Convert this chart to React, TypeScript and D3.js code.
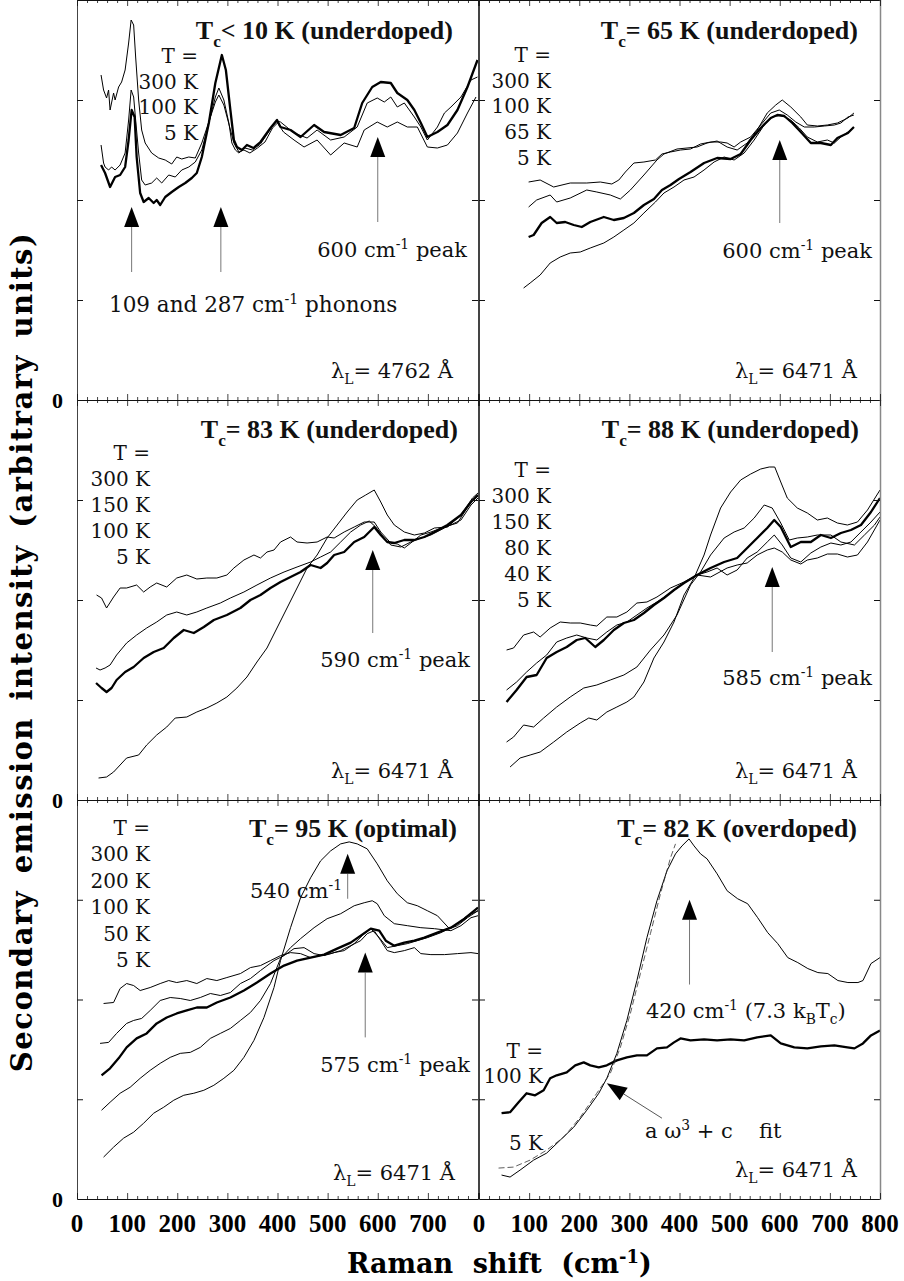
import React from 'react';
import * as d3 from 'd3';

const W = 904, H = 1281;

// ---------- Panel 1: Tc < 10 K (underdoped) ----------
const p1_300K: [number, number][] = [[48,325],[53,310],[59,302],[63,310],[66,290],[73,307],[76,300],[83,313],[89,318],[96,330],[103,357],[108,380],[113,375],[117,343],[123,300],[129,270],[136,257],[149,247],[163,242],[176,240],[189,236],[199,243],[209,241],[223,243],[236,242],[249,257],[263,278],[276,298],[283,305],[293,295],[303,276],[313,257],[323,248],[333,250],[345,247],[360,252],[375,258],[390,272],[400,277],[412,268],[433,260],[453,253],[479,260],[506,245],[533,257],[559,253],[573,270],[599,278],[619,273],[639,278],[659,273],[679,273],[699,253],[719,252],[739,255],[759,267],[779,287],[796,303]];
const p1_100K: [number, number][] = [[48,255],[53,237],[56,233],[63,230],[69,233],[76,230],[86,235],[96,247],[103,280],[108,310],[113,303],[117,280],[123,247],[129,220],[136,215],[149,217],[159,222],[169,217],[183,225],[196,223],[209,230],[223,233],[236,238],[249,250],[263,277],[276,303],[283,312],[293,300],[303,277],[309,257],[316,250],[323,247],[335,252],[350,250],[366,256],[386,271],[399,279],[406,278],[433,267],[459,262],[479,270],[506,260],[533,263],[559,273],[579,297],[599,302],[613,298],[626,303],[639,293],[653,297],[673,283],[686,273],[699,260],[719,273],[733,287],[746,293],[766,303],[786,320],[799,323]];
const p1_5K: [number, number][] = [[48,235],[56,227],[66,213],[76,223],[86,225],[96,233],[103,260],[109,290],[115,283],[119,243],[126,207],[133,198],[143,202],[153,197],[159,200],[166,195],[176,203],[189,208],[203,213],[216,217],[229,222],[239,227],[249,243],[263,277],[276,317],[289,345],[297,330],[306,290],[313,260],[319,253],[329,250],[339,255],[352,252],[366,258],[386,272],[399,280],[406,273],[426,270],[446,263],[473,275],[493,268],[526,265],[553,272],[569,297],[589,313],[606,318],[626,317],[639,307],[659,300],[673,290],[686,277],[699,263],[719,268],[739,275],[759,290],[779,313],[799,340]];

// ---------- Panel 2: Tc = 65 K (underdoped) ----------
const p2_300K: [number, number][] = [[99,218],[122,220],[149,213],[182,217],[215,217],[242,218],[265,216],[279,220],[292,228],[309,237],[329,238],[352,240],[365,246],[382,248],[402,250],[422,251],[442,256],[462,258],[482,258],[495,257],[509,253],[522,258],[542,263],[562,275],[582,287],[599,290],[615,285],[632,278],[649,273],[669,273],[689,274],[709,275],[722,277],[736,283],[748,285]];
const p2_100K: [number, number][] = [[99,193],[115,200],[142,205],[155,198],[182,202],[215,210],[235,208],[262,205],[282,201],[302,210],[329,225],[355,240],[369,246],[395,251],[415,252],[435,253],[455,257],[475,259],[495,253],[515,250],[535,257],[555,270],[575,287],[592,295],[605,300],[622,293],[642,283],[655,275],[675,274],[695,275],[715,277],[736,282],[748,287]];
const p2_65K: [number, number][] = [[99,163],[109,165],[125,177],[142,183],[155,177],[172,178],[189,175],[205,173],[222,178],[249,183],[269,180],[289,182],[309,187],[329,195],[349,201],[365,210],[382,215],[399,221],[422,228],[449,237],[475,242],[502,241],[522,246],[542,260],[562,272],[582,282],[595,285],[609,284],[625,277],[642,268],[662,257],[682,257],[702,255],[715,262],[736,267],[748,273]];
const p2_5K: [number, number][] = [[89,112],[102,117],[122,125],[142,137],[162,143],[182,147],[202,148],[222,152],[249,157],[269,163],[289,170],[309,177],[329,187],[352,198],[369,207],[389,213],[409,220],[429,223],[449,230],[469,238],[489,243],[509,240],[529,247],[549,260],[569,275],[585,283],[602,285],[622,280],[639,272],[655,263],[675,258],[695,260],[709,257],[722,263],[736,268],[748,273]];

// ---------- Panel 3: Tc = 83 K (underdoped) ----------
const p3_300K: [number, number][] = [[39,205],[49,202],[59,192],[73,203],[86,212],[99,212],[119,215],[133,208],[146,213],[159,217],[179,213],[199,222],[219,225],[239,221],[259,222],[279,222],[299,225],[313,232],[333,240],[353,245],[366,242],[379,248],[393,250],[406,258],[426,263],[439,258],[459,257],[479,258],[499,263],[513,262],[533,268],[553,273],[573,278],[593,278],[606,268],[626,257],[639,256],[653,252],[666,257],[686,265],[706,268],[733,273],[759,277],[786,298],[800,304]];
const p3_150K: [number, number][] = [[38,132],[46,130],[56,132],[66,135],[79,145],[99,157],[119,165],[139,172],[159,178],[179,185],[199,188],[219,185],[239,188],[259,192],[286,197],[306,202],[333,208],[359,215],[386,222],[413,228],[439,233],[466,238],[486,243],[506,248],[526,258],[546,268],[566,275],[583,279],[596,273],[613,262],[626,255],[646,253],[666,258],[686,262],[706,265],[733,272],[766,280],[786,295],[800,302]];
const p3_100K: [number, number][] = [[38,117],[49,112],[59,108],[69,112],[79,120],[96,128],[113,133],[133,142],[153,148],[173,152],[193,162],[213,170],[233,167],[253,173],[273,180],[299,185],[326,192],[346,200],[366,205],[386,212],[406,218],[426,223],[446,228],[466,235],[486,232],[499,237],[513,245],[533,248],[553,258],[573,263],[593,273],[606,265],[619,258],[633,257],[653,260],[673,260],[693,263],[713,268],[739,275],[766,285],[786,298],[800,305]];
const p3_5K: [number, number][] = [[43,22],[59,23],[73,28],[86,35],[99,42],[123,45],[139,55],[159,65],[179,73],[196,82],[219,83],[239,88],[259,92],[279,97],[299,103],[319,112],[339,123],[359,138],[379,152],[399,172],[419,192],[439,212],[459,232],[479,245],[499,262],[519,275],[539,288],[559,300],[576,305],[593,310],[606,298],[619,285],[633,275],[653,268],[673,265],[693,267],[713,272],[739,273],[766,285],[789,302],[800,307]];

// ---------- Panel 4: Tc = 88 K (underdoped) ----------
const p4_300K: [number, number][] = [[55,150],[69,152],[89,165],[109,168],[122,163],[142,172],[162,178],[182,177],[202,177],[222,175],[235,174],[255,183],[275,183],[295,188],[315,197],[335,198],[355,203],[382,212],[409,218],[435,225],[462,223],[495,232],[515,235],[535,237],[555,245],[575,250],[589,252],[605,248],[622,240],[642,236],[655,240],[675,242],[695,246],[715,246],[735,243],[755,245],[775,258],[800,280]];
const p4_150K: [number, number][] = [[55,110],[75,118],[95,128],[115,137],[135,145],[155,158],[175,162],[195,165],[215,162],[235,160],[255,168],[275,175],[295,178],[315,185],[335,192],[355,198],[382,207],[409,217],[435,225],[455,228],[475,232],[495,225],[515,230],[535,242],[555,248],[575,258],[589,265],[605,255],[622,242],[642,238],[662,247],[682,253],[702,257],[722,255],[742,258],[762,268],[782,278],[800,288]];
const p4_80K: [number, number][] = [[55,98],[75,110],[95,123],[115,125],[135,142],[155,148],[175,153],[195,160],[212,162],[232,153],[249,160],[269,170],[289,177],[309,180],[329,187],[349,195],[369,202],[389,210],[409,217],[435,225],[462,232],[489,238],[515,242],[535,252],[555,262],[575,272],[589,280],[602,273],[622,253],[642,258],[662,258],[682,265],[702,262],[722,267],[742,270],[762,275],[782,288],[800,302]];
const p4_40K: [number, number][] = [[55,58],[69,63],[89,75],[109,73],[129,82],[155,93],[182,103],[209,112],[235,115],[262,120],[289,125],[315,133],[342,150],[369,165],[395,185],[422,215],[442,228],[462,245],[489,262],[509,268],[529,272],[549,282],[569,295],[585,292],[602,277],[619,260],[635,262],[655,263],[675,265],[702,265],[722,258],[749,255],[769,265],[789,275],[800,283]];
const p4_5K: [number, number][] = [[62,33],[82,42],[102,45],[122,48],[149,58],[175,68],[202,77],[219,82],[235,80],[255,88],[275,93],[295,98],[309,103],[329,118],[349,142],[369,158],[389,178],[409,205],[429,222],[449,245],[462,265],[482,292],[502,308],[522,320],[542,326],[562,331],[579,333],[590,333],[602,318],[615,302],[635,292],[655,287],[675,280],[695,282],[715,277],[735,275],[755,278],[775,290],[800,310]];

// ---------- Panel 5: Tc = 95 K (optimal) ----------
const p5_300K: [number, number][] = [[53,196],[73,197],[86,211],[99,216],[113,214],[126,209],[146,212],[166,216],[183,219],[199,217],[219,219],[239,216],[259,221],[279,219],[299,222],[326,226],[346,232],[366,234],[386,239],[406,244],[426,247],[446,246],[466,242],[486,244],[506,246],[526,249],[546,254],[566,259],[579,266],[593,269],[606,259],[619,249],[633,247],[653,249],[673,252],[686,246],[706,245],[733,245],[759,246],[786,247],[800,246]];
const p5_200K: [number, number][] = [[46,156],[63,157],[79,166],[99,176],[113,179],[129,181],[146,189],[166,199],[186,202],[206,201],[226,199],[246,202],[266,206],[286,204],[306,207],[326,216],[346,221],[366,229],[393,239],[413,244],[433,251],[453,252],[473,246],[493,244],[513,247],[533,249],[553,256],[569,264],[586,271],[603,262],[619,252],[639,254],[659,256],[679,259],[699,262],[726,267],[753,274],[779,284],[800,289]];
const p5_100K: [number, number][] = [[49,124],[66,131],[83,141],[99,152],[119,161],[139,166],[159,176],[179,182],[199,186],[219,189],[239,192],[259,192],[279,197],[306,202],[333,209],[359,217],[386,226],[413,234],[439,239],[466,242],[493,245],[519,251],[546,257],[566,264],[586,271],[603,269],[616,259],[633,254],[653,257],[673,259],[693,262],[719,267],[746,272],[773,281],[800,292]];
const p5_50K: [number, number][] = [[49,89],[66,97],[86,106],[106,112],[126,121],[146,129],[166,136],[186,142],[206,146],[226,147],[246,152],[266,161],[286,166],[306,171],[326,179],[346,187],[366,199],[386,216],[406,241],[426,252],[446,261],[473,272],[499,281],[526,286],[553,294],[573,297],[589,299],[599,296],[613,284],[633,276],[659,274],[686,272],[713,271],[746,269],[766,274],[786,282],[800,284]];
const p5_5K: [number, number][] = [[53,42],[73,52],[93,61],[113,67],[133,76],[153,86],[173,92],[193,99],[213,104],[233,106],[253,109],[273,114],[293,121],[313,129],[333,142],[353,159],[373,182],[393,212],[406,239],[426,272],[446,302],[466,322],[486,339],[506,349],[526,356],[543,358],[559,356],[579,351],[599,336],[619,319],[639,306],[659,297],[679,294],[699,289],[719,284],[743,271],[759,274],[779,282],[800,289]];

// ---------- Panel 6: Tc = 82 K (overdoped) ----------
const p6_100K: [number, number][] = [[45,86],[62,87],[79,97],[95,106],[112,104],[129,109],[142,121],[155,124],[175,127],[192,134],[209,137],[222,134],[239,132],[255,134],[275,139],[295,142],[315,144],[335,144],[355,151],[375,152],[389,157],[402,161],[422,159],[449,160],[475,159],[502,160],[529,159],[555,162],[582,164],[602,156],[629,152],[655,151],[682,153],[709,154],[735,152],[749,151],[766,156],[782,164],[800,169]];
const p6_5K: [number, number][] = [[45,24],[62,22],[82,29],[109,39],[135,46],[162,59],[189,72],[215,89],[239,106],[255,121],[275,146],[295,179],[315,219],[335,262],[355,299],[375,329],[392,346],[405,354],[419,361],[429,354],[442,346],[455,341],[475,326],[495,309],[516,301],[536,296],[556,282],[576,267],[596,256],[616,242],[636,237],[656,231],[676,227],[696,226],[716,219],[736,217],[756,217],[766,219],[782,236],[800,242]];
const p6_fit: [number, number][] = [[39,31],[69,32],[102,39],[135,49],[169,62],[202,82],[235,106],[262,126],[282,152],[302,186],[322,226],[342,266],[362,306],[382,342],[392,356]];

const xTicksLeft = [0, 100, 200, 300, 400, 500, 600, 700];
const xTicksRight = [0, 100, 200, 300, 400, 500, 600, 700, 800];
const yTicks = [100, 200, 300];

const colRange: [number, number][] = [[77, 478], [479, 880]];
const rowRange: [number, number][] = [[0, 400], [400, 800], [800, 1199]];

const SERIF = "'DejaVu Serif', serif";
const TIMES = "'Liberation Serif', 'Times New Roman', serif";

type Seg = { t: string; sub?: boolean; sup?: boolean };
const S = (t: string): Seg => ({ t });
const sub = (t: string): Seg => ({ t, sub: true });
const sup = (t: string): Seg => ({ t, sup: true });

type TextItem = { x: number; y: number; anchor?: string; size: number; bold?: boolean; family?: string; segs: Seg[] };
type Arrow = { x: number; tip: number; tail: number };
type Series = { d: [number, number][]; thick?: boolean; dashed?: boolean };

function Rich({ item }: { item: TextItem }) {
  const { x, y, anchor = 'start', size, bold, family = SERIF, segs } = item;
  let shift = 0;
  const kids = segs.map((s, i) => {
    const target = s.sub ? size * 0.3 : s.sup ? -size * 0.38 : 0;
    const dy = target - shift;
    shift = target;
    return (
      <tspan key={i} dy={dy} fontSize={s.sub || s.sup ? size * 0.66 : size}>{s.t}</tspan>
    );
  });
  return (
    <text x={x} y={y} textAnchor={anchor as any} fontSize={size} fontWeight={bold ? 'bold' : 'normal'}
      fontFamily={family} fill="#111" style={{ whiteSpace: 'pre' }}>{kids}</text>
  );
}

const titleT = (rest: string, x: number, y: number): TextItem => ({ x, y, anchor: 'end', size: 26, bold: true, family: TIMES, segs: [S('T'), sub('c'), S(rest)] });
const lam = (v: string, x: number, y: number): TextItem => ({ x, y, anchor: 'end', size: 21, segs: [S('λ'), sub('L'), S('= ' + v + ' Å')] });
const peak = (v: string, x: number, y: number, tail = ' peak'): TextItem => ({ x, y, anchor: 'end', size: 21, segs: [S(v + ' cm'), sup('-1'), S(tail)] });
const legend = (labels: string[], x: number, y0: number, dy: number): TextItem[] => labels.map((l, i) => ({ x, y: y0 + dy * i, anchor: 'end', size: 20, segs: [S(l)] }));

type PanelDef = { col: number; row: number; series: Series[]; arrows: Arrow[]; texts: TextItem[]; diag?: { x1: number; y1: number; x2: number; y2: number } };

const panels: PanelDef[] = [
  {
    col: 0, row: 0,
    series: [{ d: p1_300K }, { d: p1_100K }, { d: p1_5K, thick: true }],
    arrows: [{ x: 109, tip: 193, tail: 128 }, { x: 287, tip: 193, tail: 128 }, { x: 600, tip: 263, tail: 178 }],
    texts: [
      titleT('< 10 K (underdoped)', 453, 39),
      ...legend(['T =', '300 K', '100 K', '5 K'], 198, 63, 25.7),
      peak('600', 467, 257),
      { x: 109, y: 312, size: 21.5, segs: [S('109 and 287 cm'), sup('-1'), S(' phonons')] },
      lam('4762', 453, 378),
    ],
  },
  {
    col: 1, row: 0,
    series: [{ d: p2_300K }, { d: p2_100K }, { d: p2_65K, thick: true }, { d: p2_5K }],
    arrows: [{ x: 600, tip: 260, tail: 177 }],
    texts: [
      titleT('= 65 K (underdoped)', 858, 39),
      ...legend(['T =', '300 K', '100 K', '65 K', '5 K'], 551, 62, 25.7),
      peak('600', 872, 258),
      lam('6471', 857, 378),
    ],
  },
  {
    col: 0, row: 1,
    series: [{ d: p3_300K }, { d: p3_150K }, { d: p3_100K, thick: true }, { d: p3_5K }],
    arrows: [{ x: 590, tip: 250, tail: 167 }],
    texts: [
      titleT('= 83 K (underdoped)', 458, 438),
      ...legend(['T =', '300 K', '150 K', '100 K', '5 K'], 150, 460, 26),
      peak('590', 470, 667),
      lam('6471', 453, 778),
    ],
  },
  {
    col: 1, row: 1,
    series: [{ d: p4_300K }, { d: p4_150K }, { d: p4_80K, thick: true }, { d: p4_40K }, { d: p4_5K }],
    arrows: [{ x: 585, tip: 233, tail: 148 }],
    texts: [
      titleT('= 88 K (underdoped)', 859, 438),
      ...legend(['T =', '300 K', '150 K', '80 K', '40 K', '5 K'], 551, 477, 26),
      peak('585', 872, 685),
      lam('6471', 857, 778),
    ],
  },
  {
    col: 0, row: 2,
    series: [{ d: p5_300K }, { d: p5_200K }, { d: p5_100K, thick: true }, { d: p5_50K }, { d: p5_5K }],
    arrows: [{ x: 540, tip: 346, tail: 301 }, { x: 575, tip: 247, tail: 162 }],
    texts: [
      titleT('= 95 K (optimal)', 457, 837),
      ...legend(['T =', '300 K', '200 K', '100 K', '50 K', '5 K'], 150, 835, 26.4),
      peak('540', 342, 898, ''),
      peak('575', 470, 1072),
      lam('6471', 455, 1180),
    ],
  },
  {
    col: 1, row: 2,
    series: [{ d: p6_100K, thick: true }, { d: p6_5K }, { d: p6_fit, dashed: true }],
    arrows: [{ x: 420, tip: 300, tail: 215 }],
    diag: { x1: 255, y1: 116, x2: 365, y2: 81 },
    texts: [
      titleT('= 82 K (overdoped)', 857, 837),
      { x: 646, y: 1018, size: 21, segs: [S('420 cm'), sup('-1'), S(' (7.3 k'), sub('B'), S('T'), sub('c'), S(')')] },
      { x: 543, y: 1058, anchor: 'end', size: 20, segs: [S('T =')] },
      { x: 543, y: 1083, anchor: 'end', size: 20, segs: [S('100 K')] },
      { x: 543, y: 1150, anchor: 'end', size: 20, segs: [S('5 K')] },
      { x: 645, y: 1138, size: 21, segs: [S('a ω'), sup('3'), S(' + c')] },
      { x: 759, y: 1138, size: 21, segs: [S('fit')] },
      lam('6471', 857, 1177),
    ],
  },
];

function Panel({ p }: { p: PanelDef }) {
  const [x0, x1] = colRange[p.col];
  const [y0, y1] = rowRange[p.row];
  const x = d3.scaleLinear().domain([0, 800]).range([x0, x1]);
  const y = d3.scaleLinear().domain([0, 400]).range([y1, y0]);
  const line = d3.line<[number, number]>().x(d => x(d[0])).y(d => y(d[1]));
  const minor = d3.range(0, 801, 20);
  const head = 20, hw = 7.5;
  let diagEl = null;
  if (p.diag) {
    const tx = x(p.diag.x1), ty = y(p.diag.y1), ex = x(p.diag.x2), ey = y(p.diag.y2);
    const len = Math.hypot(ex - tx, ey - ty);
    const ux = (ex - tx) / len, uy = (ey - ty) / len;
    const bx = tx + ux * head, by = ty + uy * head;
    const nx = -uy, ny = ux;
    diagEl = (
      <g>
        <line x1={bx} y1={by} x2={ex} y2={ey} stroke="#444" strokeWidth={0.9} />
        <path d={`M${tx},${ty}L${bx + nx * hw},${by + ny * hw}L${bx - nx * hw},${by - ny * hw}Z`} fill="#000" />
      </g>
    );
  }
  return (
    <g>
      {p.series.map((s, i) => (
        <path key={i} d={line(s.d) || ''} fill="none" stroke={s.dashed ? '#333' : '#000'}
          strokeWidth={s.thick ? 2.3 : s.dashed ? 0.8 : 1} strokeDasharray={s.dashed ? '6,3' : undefined}
          strokeLinejoin="round" />
      ))}
      <line x1={x0} y1={y0 + 0.5} x2={x1} y2={y0 + 0.5} stroke="#111" strokeWidth={1} />
      <line x1={x0} y1={y1 + 0.5} x2={x1} y2={y1 + 0.5} stroke="#111" strokeWidth={1} />
      <line x1={x0 + 0.5} y1={y0} x2={x0 + 0.5} y2={y1 + 1} stroke="#444" strokeWidth={1} />
      <line x1={x1 + 0.5} y1={y0} x2={x1 + 0.5} y2={y1 + 1} stroke={p.col === 1 ? '#888' : '#444'} strokeWidth={p.col === 1 ? 1.5 : 1} />
      {minor.map(v => {
        const len = v % 100 === 0 ? 6 : 3;
        return (
          <g key={v}>
            <line x1={x(v) + 0.5} x2={x(v) + 0.5} y1={y1} y2={y1 - len} stroke="#111" strokeWidth={0.8} />
            <line x1={x(v) + 0.5} x2={x(v) + 0.5} y1={y0} y2={y0 + len} stroke="#111" strokeWidth={0.8} />
          </g>
        );
      })}
      {yTicks.map(v => (
        <g key={v}>
          <line x1={x0} x2={x0 + 6} y1={y(v) + 0.5} y2={y(v) + 0.5} stroke="#111" strokeWidth={1} />
          <line x1={x1} x2={x1 - 6} y1={y(v) + 0.5} y2={y(v) + 0.5} stroke="#111" strokeWidth={1} />
        </g>
      ))}
      {p.arrows.map((a, i) => {
        const ax = x(a.x), ty = y(a.tip), ey = y(a.tail);
        return (
          <g key={i}>
            <line x1={ax} x2={ax} y1={ty + head} y2={ey} stroke="#777" strokeWidth={1} />
            <path d={`M${ax},${ty}L${ax + hw},${ty + head}L${ax - hw},${ty + head}Z`} fill="#000" />
          </g>
        );
      })}
      {diagEl}
      {p.texts.map((t, i) => <Rich key={i} item={t} />)}
    </g>
  );
}

export default function App() {
  const xl = d3.scaleLinear().domain([0, 800]).range(colRange[0]);
  const xr = d3.scaleLinear().domain([0, 800]).range(colRange[1]);
  return (
    <svg width={W} height={H} style={{ position: 'absolute', left: 0, top: 0, background: '#fff' }}>
      <rect width={W} height={H} fill="#fff" />
      {panels.map((p, i) => <Panel key={i} p={p} />)}
      {rowRange.map((r, i) => (
        <text key={i} x={63} y={r[1] + 8} textAnchor="end" fontFamily={TIMES} fontWeight="bold" fontSize={22}>0</text>
      ))}
      {xTicksLeft.map(v => (
        <text key={'l' + v} x={xl(v)} y={1232} textAnchor="middle" fontFamily={TIMES} fontWeight="bold" fontSize={25}>{v}</text>
      ))}
      {xTicksRight.map(v => (
        <text key={'r' + v} x={xr(v)} y={1232} textAnchor="middle" fontFamily={TIMES} fontWeight="bold" fontSize={25}>{v}</text>
      ))}
      <text x={347} y={1273} fontFamily={SERIF} fontWeight="bold" fontSize={27} style={{ whiteSpace: 'pre' }} wordSpacing={10}>
        <tspan>Raman shift (cm</tspan>
        <tspan dy={-10} fontSize={18}>-1</tspan>
        <tspan dy={10}>)</tspan>
      </text>
      <text transform="translate(32,652) rotate(-90)" textAnchor="middle" fontFamily={SERIF} fontWeight="bold"
        fontSize={29} letterSpacing={1.5} wordSpacing={5}>Secondary emission intensity (arbitrary units)</text>
    </svg>
  );
}
